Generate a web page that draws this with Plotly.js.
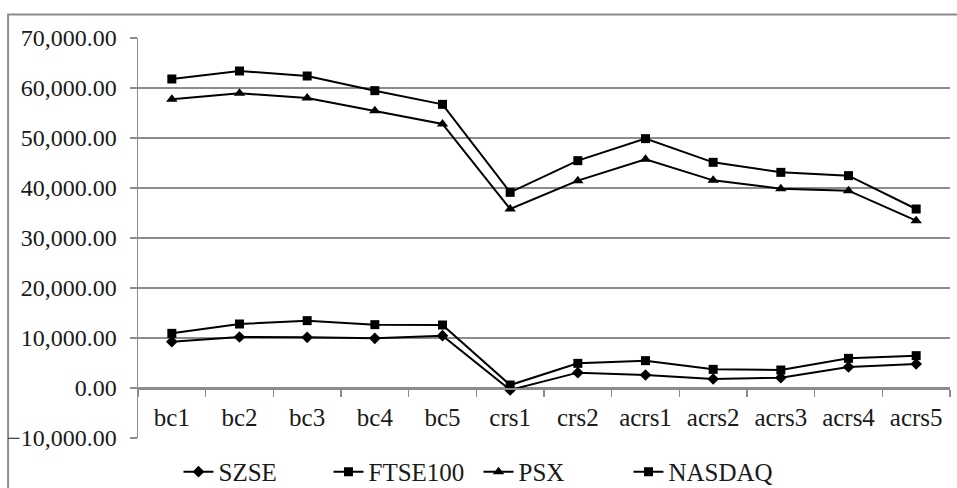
<!DOCTYPE html>
<html>
<head>
<meta charset="utf-8">
<script src="https://cdn.plot.ly/plotly-3.0.1.min.js"></script>
<style>html,body{margin:0;padding:0;background:#fff;}#chart{width:957px;height:488px;}</style>
</head>
<body>
<div id="chart"></div>
<script>
const categories = ["bc1","bc2","bc3","bc4","bc5","crs1","crs2","acrs1","acrs2","acrs3","acrs4","acrs5"];
const szse    = [9270, 10200, 10130, 9930, 10470, -400, 3070, 2600, 1800, 2070, 4200, 4800];
const ftse100 = [10930, 12800, 13470, 12670, 12600, 600, 4930, 5470, 3730, 3600, 5930, 6470];
const psx     = [57730, 58930, 58000, 55470, 52800, 35800, 41470, 45730, 41530, 39870, 39470, 33470];
const nasdaq  = [61800, 63400, 62400, 59470, 56730, 39130, 45470, 49870, 45130, 43130, 42470, 35800];

const FONT = "'Liberation Serif', 'Times New Roman', serif";
const GRAY = "#8c8c8c";
const TXT = "#1a1a1a";

function tr(name, y, symbol, size) {
  return {
    x: categories, y: y, name: name, type: "scatter", mode: "lines+markers",
    line: {color: "#000", width: 2},
    marker: {symbol: symbol, size: size, color: "#000"}
  };
}

const data = [
  tr("SZSE", szse, "diamond", 9),
  tr("FTSE100", ftse100, "square", 9),
  tr("PSX", psx, "triangle-up", 10),
  tr("NASDAQ", nasdaq, "square", 9)
];

const layout = {
  width: 957, height: 488,
  margin: {l: 138, r: 7, t: 38, b: 50},
  paper_bgcolor: "#fff", plot_bgcolor: "#fff",
  font: {family: FONT, size: 24, color: TXT},
  showlegend: true,
  legend: {orientation: "h", xref: "container", yref: "container",
           x: 0.5, xanchor: "center", y: 0.033, yanchor: "middle",
           entrywidth: 105, entrywidthmode: "pixels",
           font: {family: FONT, size: 25, color: TXT}, traceorder: "normal"},
  xaxis: {
    type: "category", range: [-0.5, 11.5],
    anchor: "free", position: 0.125,
    showline: true, linecolor: GRAY, linewidth: 1.5,
    ticks: "outside", tickson: "boundaries", ticklen: 7, tickcolor: GRAY, tickwidth: 1.5,
    showgrid: false, zeroline: false,
    ticklabelstandoff: 6,
    tickfont: {family: FONT, size: 25, color: TXT}
  },
  yaxis: {
    range: [-10000, 70000], dtick: 10000, tick0: 0,
    tickformat: ",.2f",
    showline: true, linecolor: GRAY, linewidth: 1.5,
    ticks: "outside", ticklen: 7, tickcolor: GRAY, tickwidth: 1.5,
    showgrid: true, gridcolor: GRAY, gridwidth: 1.3, zeroline: false,
    ticklabelstandoff: 8,
    tickfont: {family: FONT, size: 24, color: TXT}
  },
  shapes: [{
    type: "rect", xref: "paper", yref: "paper",
    x0: -0.160, x1: 1.05, y0: -0.3, y1: 1.059,
    line: {color: GRAY, width: 2}, fillcolor: "rgba(0,0,0,0)", layer: "below"
  }]
};

Plotly.newPlot("chart", data, layout, {displayModeBar: false, staticPlot: true});
</script>
</body>
</html>
